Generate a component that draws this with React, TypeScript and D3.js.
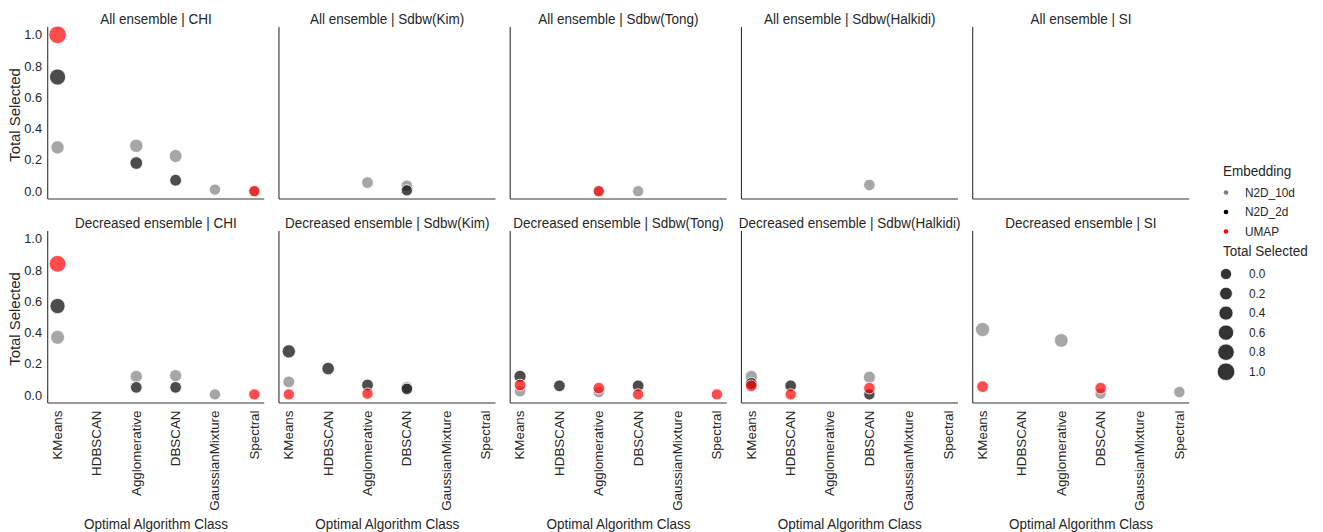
import React from "react";
import * as d3 from "d3";

// Facet rows / columns and categories
const ensembles = ["All ensemble", "Decreased ensemble"];
const metrics = ["CHI", "Sdbw(Kim)", "Sdbw(Tong)", "Sdbw(Halkidi)", "SI"];
const algorithms = ["KMeans", "HDBSCAN", "Agglomerative", "DBSCAN", "GaussianMixture", "Spectral"];
const embeddings = ["N2D_10d", "N2D_2d", "UMAP"];
const embeddingColors = ["#808080", "#000000", "#ff0000"];
const yTicks = [0, 0.2, 0.4, 0.6, 0.8, 1.0];
const sizeLegendValues = [0, 0.2, 0.4, 0.6, 0.8, 1.0];

type Row = [string, string, string, number]; // metric, algorithm, embedding, total selected

const allEnsembleRows: Row[] = [
  ["CHI", "KMeans", "N2D_10d", 0.28],
  ["CHI", "Agglomerative", "N2D_10d", 0.29],
  ["CHI", "DBSCAN", "N2D_10d", 0.225],
  ["CHI", "GaussianMixture", "N2D_10d", 0.01],
  ["CHI", "Spectral", "N2D_10d", 0.0],
  ["CHI", "KMeans", "N2D_2d", 0.73],
  ["CHI", "Agglomerative", "N2D_2d", 0.18],
  ["CHI", "DBSCAN", "N2D_2d", 0.07],
  ["CHI", "KMeans", "UMAP", 1.0],
  ["CHI", "Spectral", "UMAP", 0.0],
  ["Sdbw(Kim)", "Agglomerative", "N2D_10d", 0.055],
  ["Sdbw(Kim)", "DBSCAN", "N2D_10d", 0.035],
  ["Sdbw(Kim)", "DBSCAN", "N2D_2d", 0.005],
  ["Sdbw(Tong)", "Agglomerative", "N2D_10d", 0.0],
  ["Sdbw(Tong)", "DBSCAN", "N2D_10d", 0.0],
  ["Sdbw(Tong)", "Agglomerative", "UMAP", 0.0],
  ["Sdbw(Halkidi)", "DBSCAN", "N2D_10d", 0.04],
];

const decreasedEnsembleRows: Row[] = [
  ["CHI", "KMeans", "N2D_10d", 0.37],
  ["CHI", "Agglomerative", "N2D_10d", 0.12],
  ["CHI", "DBSCAN", "N2D_10d", 0.125],
  ["CHI", "GaussianMixture", "N2D_10d", 0.005],
  ["CHI", "KMeans", "N2D_2d", 0.57],
  ["CHI", "Agglomerative", "N2D_2d", 0.05],
  ["CHI", "DBSCAN", "N2D_2d", 0.05],
  ["CHI", "KMeans", "UMAP", 0.84],
  ["CHI", "Spectral", "UMAP", 0.005],
  ["Sdbw(Kim)", "KMeans", "N2D_10d", 0.085],
  ["Sdbw(Kim)", "DBSCAN", "N2D_10d", 0.05],
  ["Sdbw(Kim)", "KMeans", "N2D_2d", 0.28],
  ["Sdbw(Kim)", "HDBSCAN", "N2D_2d", 0.17],
  ["Sdbw(Kim)", "Agglomerative", "N2D_2d", 0.065],
  ["Sdbw(Kim)", "DBSCAN", "N2D_2d", 0.04],
  ["Sdbw(Kim)", "KMeans", "UMAP", 0.005],
  ["Sdbw(Kim)", "Agglomerative", "UMAP", 0.01],
  ["Sdbw(Tong)", "KMeans", "N2D_10d", 0.025],
  ["Sdbw(Tong)", "Agglomerative", "N2D_10d", 0.02],
  ["Sdbw(Tong)", "KMeans", "N2D_2d", 0.12],
  ["Sdbw(Tong)", "HDBSCAN", "N2D_2d", 0.06],
  ["Sdbw(Tong)", "DBSCAN", "N2D_2d", 0.06],
  ["Sdbw(Tong)", "KMeans", "UMAP", 0.065],
  ["Sdbw(Tong)", "Agglomerative", "UMAP", 0.045],
  ["Sdbw(Tong)", "DBSCAN", "UMAP", 0.005],
  ["Sdbw(Tong)", "Spectral", "UMAP", 0.005],
  ["Sdbw(Halkidi)", "KMeans", "N2D_10d", 0.12],
  ["Sdbw(Halkidi)", "DBSCAN", "N2D_10d", 0.115],
  ["Sdbw(Halkidi)", "KMeans", "N2D_2d", 0.075],
  ["Sdbw(Halkidi)", "HDBSCAN", "N2D_2d", 0.06],
  ["Sdbw(Halkidi)", "DBSCAN", "N2D_2d", 0.005],
  ["Sdbw(Halkidi)", "KMeans", "UMAP", 0.06],
  ["Sdbw(Halkidi)", "HDBSCAN", "UMAP", 0.005],
  ["Sdbw(Halkidi)", "DBSCAN", "UMAP", 0.045],
  ["SI", "KMeans", "N2D_10d", 0.42],
  ["SI", "Agglomerative", "N2D_10d", 0.35],
  ["SI", "DBSCAN", "N2D_10d", 0.01],
  ["SI", "Spectral", "N2D_10d", 0.02],
  ["SI", "KMeans", "UMAP", 0.055],
  ["SI", "DBSCAN", "UMAP", 0.045],
];

const rowsByEnsemble = [allEnsembleRows, decreasedEnsembleRows];

// Layout
const WIDTH = 1323;
const HEIGHT = 532;
const PANEL_LEFT0 = 47.7;
const PANEL_STEP = 231.25;
const PANEL_W = 216.5;
const PANEL_TOPS = [27, 231];
const PANEL_H = 172;
const FONT = "'Liberation Sans', Arial, Helvetica, sans-serif";
const TEXT = "#262626";
const STRETCH = 1.08;

const colorScale = d3.scaleOrdinal<string, string>().domain(embeddings).range(embeddingColors);
const sizeScale = d3.scaleRadial().domain([0, 1]).range([5.6, 8.8]);

// Text slightly taller than wide, matching the source figure's typography
function Txt(props: {
  x: number; y: number; text: string; size: number;
  anchor?: string; rotate?: number;
}) {
  const { x, y, text, size, anchor = "start", rotate = 0 } = props;
  const transform =
    rotate !== 0
      ? `translate(${x},${y}) rotate(${rotate}) scale(${STRETCH},1)`
      : `translate(${x},${y}) scale(1,${STRETCH})`;
  return (
    <text
      transform={transform}
      fontSize={size}
      fontFamily={FONT}
      fill={TEXT}
      textAnchor={anchor}
    >
      {text}
    </text>
  );
}

function Panel({ ri, ci }: { ri: number; ci: number }) {
  const left = PANEL_LEFT0 + ci * PANEL_STEP;
  const right = left + PANEL_W;
  const top = PANEL_TOPS[ri];
  const bottom = top + PANEL_H;
  const x = d3.scalePoint<string>().domain(algorithms).range([left, right]).padding(0.25);
  const y = d3.scaleLinear().domain([-0.05, 1.05]).range([bottom, top]);
  const metric = metrics[ci];
  const rows = rowsByEnsemble[ri].filter((r) => r[0] === metric);
  // draw embeddings in legend order so later hues sit on top
  const ordered = embeddings.flatMap((e) => rows.filter((r) => r[2] === e));
  const isBottom = ri === ensembles.length - 1;
  return (
    <g>
      <Txt
        x={(left + right) / 2}
        y={top - 3.5}
        text={`${ensembles[ri]} | ${metric}`}
        size={13.5}
        anchor="middle"
      />
      {ordered.map((r, i) => (
        <circle
          key={i}
          cx={x(r[1])!}
          cy={y(r[3])}
          r={sizeScale(r[3])}
          fill={colorScale(r[2])}
          fillOpacity={0.7}
          stroke="#ffffff"
          strokeWidth={0.8}
        />
      ))}
      <line x1={left} x2={left} y1={top} y2={bottom} stroke="#333" strokeWidth={1.1} />
      <line x1={left} x2={right} y1={bottom} y2={bottom} stroke="#333" strokeWidth={1.1} />
      {ci === 0 && (
        <g>
          {yTicks.map((t, i) => (
            <text
              key={`yt${i}`}
              x={42}
              y={y(t) + 4.5}
              fontSize={12.8}
              fontFamily={FONT}
              fill={TEXT}
              textAnchor="end"
            >
              {d3.format(".1f")(t)}
            </text>
          ))}
        </g>
      )}
      {ci === 0 && (
        <Txt x={20} y={(top + bottom) / 2 + 2} text="Total Selected" size={13.8} anchor="middle" rotate={-90} />
      )}
      {isBottom &&
        algorithms.map((a) => (
          <Txt key={a} x={x(a)! + 4.4} y={bottom + 7.5} text={a} size={12.4} anchor="end" rotate={-90} />
        ))}
      {isBottom && (
        <Txt x={(left + right) / 2} y={529} text="Optimal Algorithm Class" size={13.5} anchor="middle" />
      )}
    </g>
  );
}

function Legend() {
  const lx = 1223;
  const mx = 1226;
  const itemY = d3.scalePoint<string>().domain(embeddings).range([192.5, 231.5]);
  const sizeY = d3.scalePoint<string>().domain(sizeLegendValues.map(String)).range([274, 371.7]);
  return (
    <g>
      <Txt x={lx} y={176} text="Embedding" size={13.5} />
      {embeddings.map((e) => (
        <g key={e}>
          <circle cx={mx} cy={itemY(e)!} r={2.3} fill={colorScale(e)} />
          <Txt x={1245} y={itemY(e)! + 4.2} text={e} size={11.8} />
        </g>
      ))}
      <Txt x={lx} y={256} text="Total Selected" size={13.5} />
      {sizeLegendValues.map((v, i) => (
        <g key={`s${i}`}>
          <circle cx={mx} cy={sizeY(String(v))!} r={sizeScale(v)} fill="#333333" stroke="#ffffff" strokeWidth={0.8} />
          <Txt x={1249} y={sizeY(String(v))! + 4.2} text={d3.format(".1f")(v)} size={11.8} />
        </g>
      ))}
    </g>
  );
}

export default function App() {
  return (
    <svg
      width={WIDTH}
      height={HEIGHT}
      style={{ position: "absolute", left: 0, top: 0, background: "#ffffff" }}
    >
      <rect width={WIDTH} height={HEIGHT} fill="#ffffff" />
      {ensembles.map((_, ri) =>
        metrics.map((_, ci) => <Panel key={`${ri}-${ci}`} ri={ri} ci={ci} />)
      )}
      <Legend />
    </svg>
  );
}
